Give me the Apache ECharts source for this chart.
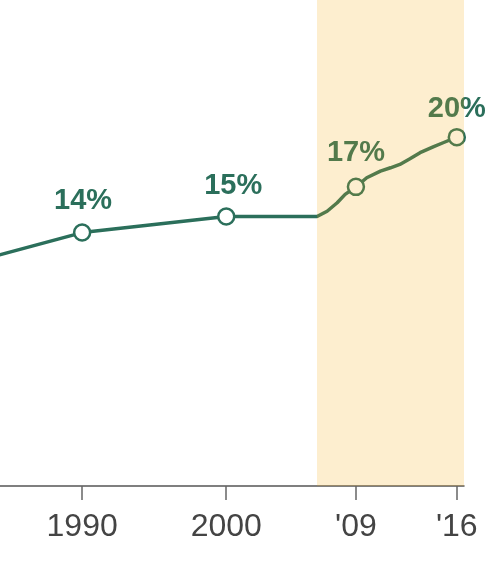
<!DOCTYPE html>
<html>
<head>
<meta charset="utf-8">
<script src="https://cdn.jsdelivr.net/npm/echarts@6/dist/echarts.min.js"></script>
<style>
    html, body { margin: 0; padding: 0; background: #fff; }
    #chart { width: 504px; height: 565px; }
</style>
</head>
<body>
<div id="chart"></div>
<script>
// 数据
var years = [1983, 1990, 2000, 2006.3, 2007.0, 2007.7, 2008.25, 2009, 2009.75, 2010.7, 2011.4, 2012.05, 2012.75, 2013.45, 2014.4, 2015.05, 2016];
var shares = [12.3, 14, 15, 15, 15.33, 15.86, 16.38, 16.85, 17.42, 17.83, 18.04, 18.25, 18.6, 18.98, 19.36, 19.6, 19.95];
var markedYears = [1990, 2000, 2009, 2016];
var markedLabels = ['14%', '15%', '17%', '20%'];
var tickYears = [1990, 2000, 2009, 2016];
var tickLabels = ['1990', '2000', '\'09', '\'16'];
var bandRange = [2006.3, 2016.5];

var lineColor = '#2b6f5b';
// 标签微调
var labelOffsets = [[1, -1], [7, 0], [0, -3], [0, 3]];

var seriesData = years.map(function (y, i) {
    var k = markedYears.indexOf(y);
    if (k < 0) {
        return { value: [y, shares[i]], symbol: 'none', label: { show: false } };
    }
    return {
        value: [y, shares[i]],
        symbol: 'circle',
        label: {
            show: true,
            formatter: markedLabels[k],
            offset: labelOffsets[k]
        }
    };
});

var option = {
    animation: false,
    grid: { left: 0, right: 40, top: 0, bottom: 79 },
    xAxis: {
        type: 'value',
        min: 1984.3,
        max: 2016.5,
        splitLine: { show: false },
        axisLine: { show: true, onZero: false, lineStyle: { color: '#555', width: 1.5 } },
        axisTick: {
            show: true,
            customValues: tickYears,
            length: 14,
            lineStyle: { color: '#666', width: 1.5 }
        },
        axisLabel: {
            customValues: tickYears,
            margin: 25,
            color: '#444',
            fontSize: 32,
            fontFamily: 'Liberation Sans',
            formatter: function (value) {
                var k = tickYears.indexOf(value);
                return k >= 0 ? tickLabels[k] : '';
            }
        }
    },
    yAxis: {
        type: 'value',
        min: -1.8,
        max: 28.5,
        show: false,
        splitLine: { show: false }
    },
    series: [
        {
            type: 'line',
            z: 2,
            data: seriesData,
            symbolSize: 16,
            lineStyle: { color: lineColor, width: 3.5 },
            itemStyle: { color: '#fff', borderColor: lineColor, borderWidth: 2.5 },
            label: {
                position: 'top',
                distance: 7,
                color: lineColor,
                fontSize: 29,
                fontWeight: 'bold',
                fontFamily: 'Liberation Sans'
            }
        },
        {
            type: 'line',
            z: 10,
            data: [],
            markArea: {
                z: 10,
                silent: true,
                itemStyle: { color: 'rgba(245,170,15,0.2)' },
                data: [[{ xAxis: bandRange[0] }, { xAxis: bandRange[1] }]]
            }
        }
    ]
};

var chart = echarts.init(document.getElementById('chart'));
chart.setOption(option);
</script>
</body>
</html>
